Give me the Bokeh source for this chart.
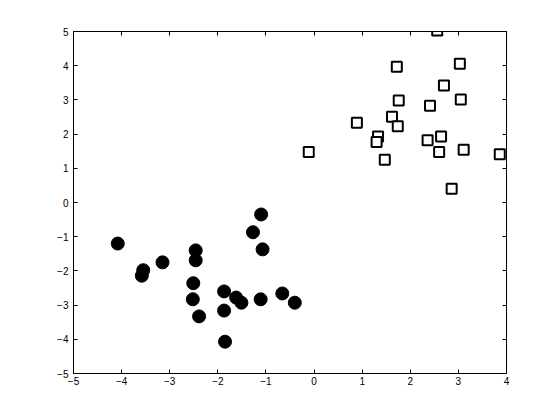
from bokeh.plotting import figure
from bokeh.models import Range1d, LinearAxis, FixedTicker
from bokeh.embed import file_html
from bokeh.resources import INLINE

circle_x = [-4.08, -3.55, -3.58, -3.15, -2.46, -2.46, -2.51, -2.52, -2.39, -1.87,
            -1.87, -1.85, -1.62, -1.51, -1.27, -1.10, -1.07, -1.11, -0.66, -0.40]
circle_y = [-1.20, -1.98, -2.14, -1.75, -1.40, -1.69, -2.36, -2.83, -3.33, -2.60,
            -3.16, -4.07, -2.78, -2.93, -0.87, -0.35, -1.37, -2.83, -2.66, -2.93]
square_x = [-0.11, 0.89, 1.33, 1.30, 1.47, 1.62, 1.74, 1.76, 1.72, 2.41,
            2.36, 2.64, 2.60, 2.56, 2.70, 2.86, 3.03, 3.05, 3.11, 3.86]
square_y = [1.48, 2.33, 1.93, 1.77, 1.25, 2.51, 2.23, 2.98, 3.97, 2.83,
            1.82, 1.93, 1.48, 5.03, 3.42, 0.40, 4.06, 3.01, 1.54, 1.41]
x_ticks = [-5, -4, -3, -2, -1, 0, 1, 2, 3, 4]
y_ticks = [-5, -4, -3, -2, -1, 0, 1, 2, 3, 4, 5]

p = figure(width=544, height=404, output_backend="svg", toolbar_location=None,
           x_range=Range1d(-5, 4), y_range=Range1d(-5, 5),
           x_axis_location=None, y_axis_location=None,
           min_border_left=73, min_border_right=38, min_border_top=31, min_border_bottom=31)
p.grid.visible = False
p.outline_line_color = "black"
p.outline_line_width = 1
p.background_fill_color = "white"
p.border_fill_color = "white"

def make_axis(ticks, labels=True):
    ax = LinearAxis(ticker=FixedTicker(ticks=ticks))
    ax.major_tick_in = 4
    ax.major_tick_out = 0
    ax.minor_tick_in = 0
    ax.minor_tick_out = 0
    ax.axis_line_color = "black"
    ax.major_tick_line_color = "black"
    ax.major_label_text_font = "Liberation Sans"
    ax.major_label_text_font_size = "10px"
    ax.major_label_text_color = "black"
    if not labels:
        ax.major_label_text_alpha = 0
        ax.major_label_text_font_size = "1px"
    return ax

bx = make_axis(x_ticks)
bx.major_label_standoff = 3
p.add_layout(bx, "below")
ly = make_axis(y_ticks)
ly.major_label_standoff = 5
p.add_layout(ly, "left")
p.add_layout(make_axis(x_ticks, labels=False), "above")
p.add_layout(make_axis(y_ticks, labels=False), "right")

p.scatter(circle_x, circle_y, marker="circle", size=13, fill_color="black", line_color="black")
p.scatter(square_x, square_y, marker="square", size=10, fill_color="white",
          line_color="black", line_width=2)

open("out.html", "w").write(file_html(p, INLINE))
